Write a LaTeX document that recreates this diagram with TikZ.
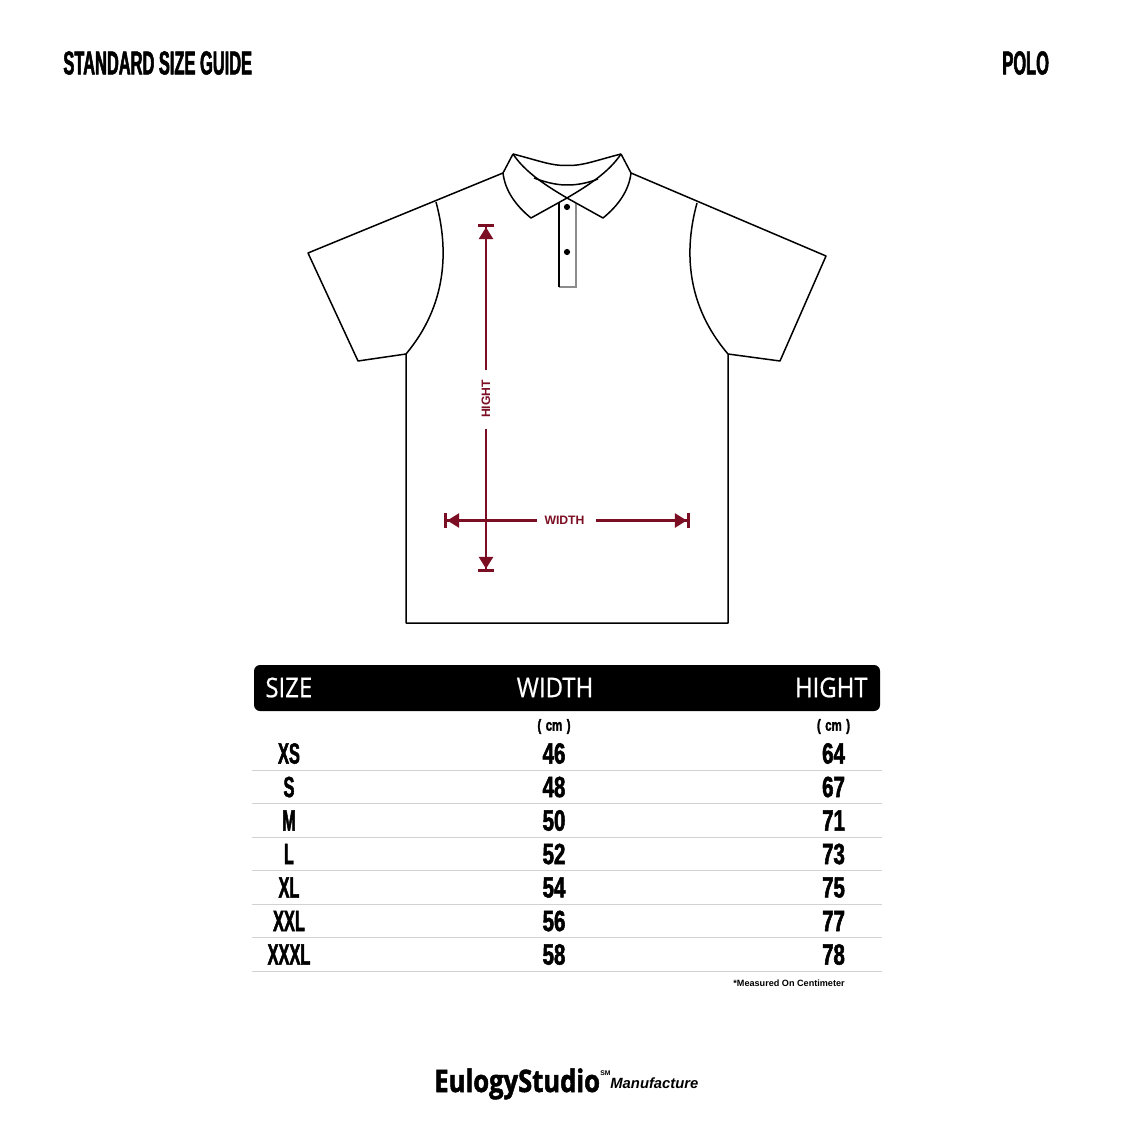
\documentclass[tikz,border=0pt]{standalone}
\usepackage{fontspec}
\usetikzlibrary{arrows.meta}
\setmainfont{Liberation Sans}
\newfontfamily\condfont[FakeStretch=0.56,BoldFont={Liberation Sans Bold},BoldFeatures={FakeBold=1.6,FakeStretch=0.56}]{Liberation Sans}
\newfontfamily\digitfont[FakeStretch=0.7,BoldFont={Liberation Sans Bold},BoldFeatures={FakeBold=1.8,FakeStretch=0.7}]{Liberation Sans}
\newfontfamily\titlefont[FakeStretch=0.495,BoldFont={Liberation Sans Bold},BoldFeatures={FakeBold=1.6,FakeStretch=0.495}]{Liberation Sans}
\newfontfamily\headfont[FakeStretch=0.88,FakeBold=0.6]{Open Sans}
\newfontfamily\logofont[BoldFeatures={FakeBold=1.6,FakeStretch=0.825}]{Open Sans}
\definecolor{dimred}{HTML}{7B0E22}
\definecolor{rulegray}{HTML}{D2D2D2}
\tikzset{
  garment/.style={line width=0.75pt,black,line join=round},
  dimline/.style={line width=1.45pt,dimred},
  starttip/.style={{Bar[width=7.6pt,line width=1.6pt,sep=0pt]Triangle[width=7pt,length=6pt]}-},
  endtip/.style={-{Triangle[width=7pt,length=6pt,sep=0pt]Bar[width=7.6pt,line width=1.6pt]}},
  dimlabel/.style={inner sep=0pt,text=dimred,font=\fontsize{6.1}{7}\selectfont\bfseries},
  cond/.style={inner sep=0pt,font=\condfont\bfseries\fontsize{14.6}{16}\selectfont},
  digit/.style={inner sep=0pt,font=\digitfont\bfseries\fontsize{14.6}{16}\selectfont},
  title/.style={inner sep=0pt,anchor=west,font=\titlefont\bfseries\fontsize{16.6}{18}\selectfont},
  headtext/.style={inner sep=0pt,text=white,font=\headfont\fontsize{13.6}{15}\selectfont},
  unit/.style={inner sep=0pt,font=\digitfont\bfseries\fontsize{8}{9}\selectfont,xscale=1.02},
  tablerule/.style={rulegray,line width=0.5pt},
}
\newcommand{\cmunit}{(\hspace{2.2pt}cm\hspace{2.2pt})}
\begin{document}
\begin{tikzpicture}[x=0.5pt,y=-0.5pt]
\useasboundingbox[fill=white] (0,0) rectangle (1134,1134);
% titles
\node[title] (t1) at (63,63) {STANDARD SIZE GUIDE};
\node[title] (t2) at (1002,63) {POLO};
% body and sleeves
\draw[garment] (503,173) -- (308,253) -- (358,361) -- (406,354) -- (406,623) -- (728,623) -- (728,354) -- (780,361) -- (826,256) -- (631,173);
\draw[garment] (436,202) .. controls (449,250) and (447,305) .. (406,354);
\draw[garment] (697,203) .. controls (684,250) and (686,305) .. (728,354);
% placket
\draw[line width=0.75pt,black!45] (576,203) -- (576,287) -- (559,287);
\draw[garment] (559,287) -- (559,193);
\fill (567,207) circle (3.1);
\fill (567,252) circle (3.1);
% collar
\fill[white] (513,154) -- (503,173) .. controls (505,190) and (515,205) .. (531,218) -- (567,198) -- (603,218) .. controls (619,205) and (629,190) .. (631,173) -- (621,154) -- (567,198) -- cycle;
\draw[garment] (513,154) .. controls (540,161) and (552,166) .. (567,165.5) .. controls (582,166) and (594,161) .. (621,154);
\draw[garment] (513,154) -- (503,173) .. controls (505,190) and (515,205) .. (531,218) -- (567,198) -- (603,218) .. controls (619,205) and (629,190) .. (631,173) -- (621,154);
\draw[garment] (513,154) .. controls (525,172) and (545,185) .. (567,198);
\draw[garment] (621,154) .. controls (609,172) and (589,185) .. (567,198);
\draw[garment] (534,178) .. controls (550,184) and (560,185) .. (567,185) .. controls (575,185) and (585,184) .. (598,179);
% dimensions
\node[dimlabel,rotate=90] (hl) at (486,399) {HIGHT};
\node[dimlabel] (wl) at (564.5,520.5) {WIDTH};
\coordinate (htop) at (486,224);
\coordinate (hbot) at (486,572);
\coordinate (hgapa) at (486,370);
\coordinate (hgapb) at (486,429);
\coordinate (wl1) at (444,520.5);
\coordinate (wr1) at (690,520.5);
\coordinate (wgapa) at (537,520.5);
\coordinate (wgapb) at (596,520.5);
\draw[dimline,starttip] (htop) -- (hgapa);
\draw[dimline,endtip] (hgapb) -- (hbot);
\draw[dimline,starttip] (wl1) -- (wgapa);
\draw[dimline,endtip] (wgapb) -- (wr1);
% table header
\fill[black,rounded corners=3pt] (254,665) rectangle (880,711);
\node[headtext,anchor=west] (hs) at (265,687.5) {SIZE};
\node[headtext] (hw) at (555,687.5) {WIDTH};
\node[headtext,anchor=east] (hh) at (868,687.5) {HIGHT};
\node[unit] (u1) at (554,726.5) {\cmunit};
\node[unit] (u2) at (833.5,726.5) {\cmunit};
% rows
\foreach \n/\y/\s/\w/\h in {1/753.5/XS/46/64,2/787/S/48/67,3/820.5/M/50/71,4/854/L/52/73,5/887.5/XL/54/75,6/921/XXL/56/77,7/954.5/XXXL/58/78}{
  \node[cond] (s\n) at (289,\y) {\s};
  \node[digit] (w\n) at (554,\y) {\w};
  \node[digit] (h\n) at (833.5,\y) {\h};
}
\foreach \y in {770,803.5,837,870.5,904,937.5,971}{
  \draw[tablerule] (252,\y) -- (882,\y);
}
\node[inner sep=0pt,anchor=west,font=\bfseries\fontsize{4.55}{5}\selectfont] (fn) at (733,983) {*Measured On Centimeter};
% logo
\node[inner sep=0pt,anchor=base west,font=\logofont\bfseries\fontsize{15.5}{18}\selectfont] (lg) at (434,1092) {EulogyStudio};
\node[inner sep=0pt,anchor=base west,font=\bfseries\fontsize{3.4}{4}\selectfont] (sm) at (600,1075) {SM};
\node[inner sep=0pt,anchor=base west,font=\bfseries\itshape\fontsize{7.4}{9}\selectfont] (mf) at (610,1088) {Manufacture};
\end{tikzpicture}
\end{document}
